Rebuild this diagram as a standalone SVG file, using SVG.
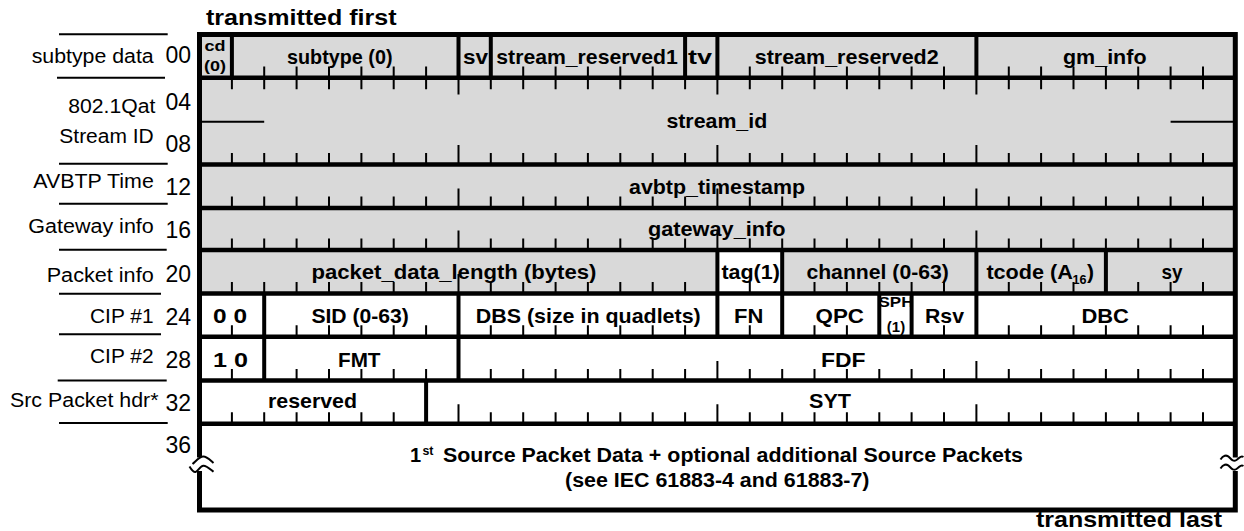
<svg xmlns="http://www.w3.org/2000/svg" width="1244" height="531" viewBox="0 0 1244 531">
<style>
text{font-family:"Liberation Sans",Arial,sans-serif;fill:#000}
.l{font-size:20px}
.n{font-size:23px;text-anchor:end}
.b{font-size:21px;font-weight:bold}
.s{font-size:14px;font-weight:bold}
.t{font-size:22px;font-weight:bold}
.c{text-anchor:middle}
.tk{stroke:#000;stroke-width:2;fill:none}
.hl{stroke:#000;stroke-width:4.5;fill:none}
.vl{stroke:#000;stroke-width:4;fill:none}
.ll{stroke:#000;stroke-width:2;fill:none}
</style>
<rect width="1244" height="531" fill="#fff"/>
<g id="fills">
<rect x="199.5" y="34.5" width="1035.8" height="259" fill="#d9d9d9"/>
<rect x="717.4" y="250" width="64.8" height="43.5" fill="#fff"/>
</g>
<g id="ticks" class="tk">
<path d="M264.2 77.7v-11.2M296.6 77.7v-11.2M329 77.7v-11.2M361.4 77.7v-11.2M393.7 77.7v-11.2M426.1 77.7v-11.2M523.2 77.7v-11.2M555.6 77.7v-11.2M587.9 77.7v-11.2M620.3 77.7v-11.2M652.7 77.7v-11.2M749.8 77.7v-11.2M782.2 77.7v-11.2M814.5 77.7v-11.2M846.9 77.7v-11.2M879.3 77.7v-11.2M911.6 77.7v-11.2M944 77.7v-11.2M1008.8 77.7v-11.2M1041.1 77.7v-11.2M1073.5 77.7v-11.2M1105.9 77.7v-11.2M1138.2 77.7v-11.2M1170.6 77.7v-11.2M1203 77.7v-11.2"/>
<path d="M231.9 77.7v11.6M264.2 77.7v11.6M296.6 77.7v11.6M329 77.7v11.6M361.4 77.7v11.6M393.7 77.7v11.6M426.1 77.7v11.6M458.5 77.7v16.8M490.8 77.7v11.6M523.2 77.7v11.6M555.6 77.7v11.6M587.9 77.7v11.6M620.3 77.7v11.6M652.7 77.7v11.6M685.1 77.7v11.6M717.4 77.7v16.8M749.8 77.7v11.6M782.2 77.7v11.6M814.5 77.7v11.6M846.9 77.7v11.6M879.3 77.7v11.6M911.6 77.7v11.6M944 77.7v11.6M976.4 77.7v16.8M1008.8 77.7v11.6M1041.1 77.7v11.6M1073.5 77.7v11.6M1105.9 77.7v11.6M1138.2 77.7v11.6M1170.6 77.7v11.6M1203 77.7v11.6"/>
<path d="M231.9 164.5v-11.5M264.2 164.5v-11.5M296.6 164.5v-11.5M329 164.5v-11.5M361.4 164.5v-11.5M393.7 164.5v-11.5M426.1 164.5v-11.5M458.5 164.5v-19.5M490.8 164.5v-11.5M523.2 164.5v-11.5M555.6 164.5v-11.5M587.9 164.5v-11.5M620.3 164.5v-11.5M652.7 164.5v-11.5M685.1 164.5v-11.5M717.4 164.5v-19.5M749.8 164.5v-11.5M782.2 164.5v-11.5M814.5 164.5v-11.5M846.9 164.5v-11.5M879.3 164.5v-11.5M911.6 164.5v-11.5M944 164.5v-11.5M976.4 164.5v-19.5M1008.8 164.5v-11.5M1041.1 164.5v-11.5M1073.5 164.5v-11.5M1105.9 164.5v-11.5M1138.2 164.5v-11.5M1170.6 164.5v-11.5M1203 164.5v-11.5"/>
<path d="M231.9 208v-11.5M264.2 208v-11.5M296.6 208v-11.5M329 208v-11.5M361.4 208v-11.5M393.7 208v-11.5M426.1 208v-11.5M458.5 208v-19.5M490.8 208v-11.5M523.2 208v-11.5M555.6 208v-11.5M587.9 208v-11.5M620.3 208v-11.5M652.7 208v-11.5M685.1 208v-11.5M717.4 208v-19.5M749.8 208v-11.5M782.2 208v-11.5M814.5 208v-11.5M846.9 208v-11.5M879.3 208v-11.5M911.6 208v-11.5M944 208v-11.5M976.4 208v-19.5M1008.8 208v-11.5M1041.1 208v-11.5M1073.5 208v-11.5M1105.9 208v-11.5M1138.2 208v-11.5M1170.6 208v-11.5M1203 208v-11.5"/>
<path d="M231.9 250v-11.5M264.2 250v-11.5M296.6 250v-11.5M329 250v-11.5M361.4 250v-11.5M393.7 250v-11.5M426.1 250v-11.5M458.5 250v-19.5M490.8 250v-11.5M523.2 250v-11.5M555.6 250v-11.5M587.9 250v-11.5M620.3 250v-11.5M652.7 250v-11.5M685.1 250v-11.5M717.4 250v-19.5M749.8 250v-11.5M782.2 250v-11.5M814.5 250v-11.5M846.9 250v-11.5M879.3 250v-11.5M911.6 250v-11.5M944 250v-11.5M976.4 250v-19.5M1008.8 250v-11.5M1041.1 250v-11.5M1073.5 250v-11.5M1105.9 250v-11.5M1138.2 250v-11.5M1170.6 250v-11.5M1203 250v-11.5"/>
<path d="M231.9 293.5v-11.5M264.2 293.5v-11.5M296.6 293.5v-11.5M329 293.5v-11.5M361.4 293.5v-11.5M393.7 293.5v-11.5M426.1 293.5v-11.5M458.5 293.5v-19.5M490.8 293.5v-11.5M523.2 293.5v-11.5M555.6 293.5v-11.5M587.9 293.5v-11.5M620.3 293.5v-11.5M652.7 293.5v-11.5M685.1 293.5v-11.5M749.8 293.5v-11.5M814.5 293.5v-11.5M846.9 293.5v-11.5M879.3 293.5v-11.5M911.6 293.5v-11.5M944 293.5v-11.5M1008.8 293.5v-11.5M1041.1 293.5v-11.5M1073.5 293.5v-11.5M1138.2 293.5v-11.5M1170.6 293.5v-11.5M1203 293.5v-11.5"/>
<path d="M231.9 336.7v-11.5M296.6 336.7v-11.5M329 336.7v-11.5M361.4 336.7v-11.5M393.7 336.7v-11.5M426.1 336.7v-11.5M490.8 336.7v-11.5M523.2 336.7v-11.5M555.6 336.7v-11.5M587.9 336.7v-11.5M620.3 336.7v-11.5M652.7 336.7v-11.5M685.1 336.7v-11.5M749.8 336.7v-11.5M814.5 336.7v-11.5M846.9 336.7v-11.5M944 336.7v-11.5M1008.8 336.7v-11.5M1041.1 336.7v-11.5M1073.5 336.7v-11.5M1105.9 336.7v-11.5M1138.2 336.7v-11.5M1170.6 336.7v-11.5M1203 336.7v-11.5"/>
<path d="M231.9 380.5v-11.5M296.6 380.5v-11.5M329 380.5v-11.5M361.4 380.5v-11.5M393.7 380.5v-11.5M426.1 380.5v-11.5M490.8 380.5v-11.5M523.2 380.5v-11.5M555.6 380.5v-11.5M587.9 380.5v-11.5M620.3 380.5v-11.5M652.7 380.5v-11.5M685.1 380.5v-11.5M717.4 380.5v-19.5M749.8 380.5v-11.5M782.2 380.5v-11.5M814.5 380.5v-11.5M846.9 380.5v-11.5M879.3 380.5v-11.5M911.6 380.5v-11.5M944 380.5v-11.5M976.4 380.5v-19.5M1008.8 380.5v-11.5M1041.1 380.5v-11.5M1073.5 380.5v-11.5M1105.9 380.5v-11.5M1138.2 380.5v-11.5M1170.6 380.5v-11.5M1203 380.5v-11.5"/>
<path d="M231.9 423.8v-11.5M264.2 423.8v-11.5M296.6 423.8v-11.5M329 423.8v-11.5M361.4 423.8v-11.5M393.7 423.8v-11.5M458.5 423.8v-19.5M490.8 423.8v-11.5M523.2 423.8v-11.5M555.6 423.8v-11.5M587.9 423.8v-11.5M620.3 423.8v-11.5M652.7 423.8v-11.5M685.1 423.8v-11.5M717.4 423.8v-19.5M749.8 423.8v-11.5M782.2 423.8v-11.5M814.5 423.8v-11.5M846.9 423.8v-11.5M879.3 423.8v-11.5M911.6 423.8v-11.5M944 423.8v-11.5M976.4 423.8v-19.5M1008.8 423.8v-11.5M1041.1 423.8v-11.5M1073.5 423.8v-11.5M1105.9 423.8v-11.5M1138.2 423.8v-11.5M1170.6 423.8v-11.5M1203 423.8v-11.5"/>
<path d="M201 121.7H264.2M1170.6 121.7H1233"/>
</g>
<g id="sph-field">
<text class="s" x="878.5" y="306.7" style="font-size:15px" textLength="35" lengthAdjust="spacingAndGlyphs">SPH</text>
<text class="s c" x="896" y="331.7" style="font-size:15px">(1)</text>
</g>
<g id="row-lines" class="hl">
<path d="M199.5 77.7H1235.3M199.5 164.5H1235.3M199.5 208H1235.3M199.5 250H1235.3M199.5 293.5H1235.3M199.5 336.7H1235.3M199.5 380.5H1235.3M199.5 423.8H1235.3"/>
</g>
<g id="field-separators" class="vl">
<path d="M231.9 34.5V77.7M458.5 34.5V77.7M490.8 34.5V77.7M685.1 34.5V77.7M717.4 34.5V77.7M976.4 34.5V77.7"/>
<path d="M717.4 250V293.5M782.2 250V293.5M976.4 250V293.5M1105.9 250V293.5"/>
<path d="M264.2 293.5V336.7M458.5 293.5V336.7M717.4 293.5V336.7M782.2 293.5V336.7M879.3 293.5V336.7M911.6 293.5V336.7M976.4 293.5V336.7"/>
<path d="M264.2 336.7V380.5M458.5 336.7V380.5"/>
<path d="M426.1 380.5V423.8"/>
</g>
<rect id="frame" x="199.5" y="34.5" width="1035.8" height="475.5" fill="none" stroke="#000" stroke-width="5"/>
<g id="breaks">
<rect x="195" y="457.5" width="9" height="13.5" fill="#fff"/>
<rect x="1231" y="457.5" width="9" height="13.5" fill="#fff"/>
<path class="ll" d="M192.5 464C196 461 199.5 456.5 203.3 456.5S210.5 460.5 213.5 463"/>
<path class="ll" d="M189.5 466.5C191 469 193 472.3 195.5 472S200 466 203.3 465.8S210.5 469.5 213.5 471.8"/>
<path class="ll" d="M1220.5 459.5C1223 455.5 1226.5 454.5 1229 457S1233 462 1236.5 460S1240.5 455 1243.5 457"/>
<path class="ll" d="M1220.5 468.5C1223 464.5 1226.5 463.5 1229 466S1233 471 1236.5 469S1240.5 464 1243.5 466"/>
</g>
<g id="left-rules" class="ll">
<path d="M59 34.3H167.7M57 77.7H165M59 163.7H167.7M59 203.7H167.7M59 249.7H166.7M59 293.7H161M59 334.3H161M57.7 380.5H166.7M59 423H167.7"/>
</g>
<g id="row-labels">
<text class="l" x="31.7" y="63.3" textLength="122" lengthAdjust="spacingAndGlyphs">subtype data</text>
<text class="l" x="68.3" y="113.3" textLength="87" lengthAdjust="spacingAndGlyphs">802.1Qat</text>
<text class="l" x="59.3" y="143.3" textLength="94.5" lengthAdjust="spacingAndGlyphs">Stream ID</text>
<text class="l" x="33.3" y="188.3" textLength="120.5" lengthAdjust="spacingAndGlyphs">AVBTP Time</text>
<text class="l" x="28.3" y="233.3" textLength="125.5" lengthAdjust="spacingAndGlyphs">Gateway info</text>
<text class="l" x="46.7" y="281.7" textLength="107" lengthAdjust="spacingAndGlyphs">Packet info</text>
<text class="l" x="90" y="323.3" textLength="63.5" lengthAdjust="spacingAndGlyphs">CIP #1</text>
<text class="l" x="90" y="363.3" textLength="63.5" lengthAdjust="spacingAndGlyphs">CIP #2</text>
<text class="l" x="10" y="406.7" textLength="148.5" lengthAdjust="spacingAndGlyphs">Src Packet hdr*</text>
</g>
<g id="offsets">
<text class="n" x="191" y="63.3">00</text>
<text class="n" x="191" y="110">04</text>
<text class="n" x="191" y="151.7">08</text>
<text class="n" x="191" y="195">12</text>
<text class="n" x="191" y="238.3">16</text>
<text class="n" x="191" y="281.7">20</text>
<text class="n" x="191" y="325">24</text>
<text class="n" x="191" y="368.3">28</text>
<text class="n" x="191" y="410.7">32</text>
<text class="n" x="191" y="453.3">36</text>
</g>
<g id="row-00">
<text class="s" x="204.5" y="50.5" textLength="21" lengthAdjust="spacingAndGlyphs">cd</text>
<text class="s" x="204" y="71" textLength="22" lengthAdjust="spacingAndGlyphs">(0)</text>
<text class="b" x="287" y="63.5" textLength="105.5" lengthAdjust="spacingAndGlyphs">subtype (0)</text>
<text class="b" x="463" y="64" textLength="25" lengthAdjust="spacingAndGlyphs">sv</text>
<text class="b" x="496.3" y="64" textLength="181.5" lengthAdjust="spacingAndGlyphs">stream_reserved1</text>
<text class="b" x="688" y="64" textLength="24" lengthAdjust="spacingAndGlyphs">tv</text>
<text class="b" x="754.7" y="64" textLength="184" lengthAdjust="spacingAndGlyphs">stream_reserved2</text>
<text class="b" x="1063" y="64" textLength="83.5" lengthAdjust="spacingAndGlyphs">gm_info</text>
</g>
<g id="row-04">
<text class="b" x="666.4" y="128.3" textLength="100.8" lengthAdjust="spacingAndGlyphs">stream_id</text>
</g>
<g id="row-12">
<text class="b" x="629" y="194.3" textLength="176" lengthAdjust="spacingAndGlyphs">avbtp_timestamp</text>
</g>
<g id="row-16">
<text class="b" x="648" y="236" textLength="137.5" lengthAdjust="spacingAndGlyphs">gateway_info</text>
</g>
<g id="row-20">
<text class="b" x="311.4" y="279.3" textLength="285" lengthAdjust="spacingAndGlyphs">packet_data_length (bytes)</text>
<text class="b" x="721.4" y="279.3" textLength="58.5" lengthAdjust="spacingAndGlyphs">tag(1)</text>
<text class="b" x="806.4" y="279.3" textLength="142.5" lengthAdjust="spacingAndGlyphs">channel (0-63)</text>
<text class="b" x="986.4" y="279.3" textLength="86.5" lengthAdjust="spacingAndGlyphs">tcode (A</text>
<text class="b" x="1072.5" y="284" style="font-size:12.5px" textLength="14" lengthAdjust="spacingAndGlyphs">16</text>
<text class="b" x="1087" y="279.3">)</text>
<text class="b" x="1161.4" y="279.3" textLength="21" lengthAdjust="spacingAndGlyphs">sy</text>
</g>
<g id="row-24">
<text class="b" x="213" y="323.3" textLength="34" lengthAdjust="spacingAndGlyphs">0 0</text>
<text class="b" x="311.4" y="323.3" textLength="97.5" lengthAdjust="spacingAndGlyphs">SID (0-63)</text>
<text class="b" x="475.7" y="323.3" textLength="225" lengthAdjust="spacingAndGlyphs">DBS (size in quadlets)</text>
<text class="b" x="734" y="323.3" textLength="29.3" lengthAdjust="spacingAndGlyphs">FN</text>
<text class="b" x="815.5" y="323.3" textLength="48.5" lengthAdjust="spacingAndGlyphs">QPC</text>
<text class="b" x="925" y="322.7" textLength="39" lengthAdjust="spacingAndGlyphs">Rsv</text>
<text class="b" x="1081.4" y="323.3" textLength="47.5" lengthAdjust="spacingAndGlyphs">DBC</text>
</g>
<g id="row-28">
<text class="b" x="213" y="366.7" textLength="35" lengthAdjust="spacingAndGlyphs">1 0</text>
<text class="b" x="338" y="366.7" textLength="42.5" lengthAdjust="spacingAndGlyphs">FMT</text>
<text class="b" x="821" y="366.7" textLength="44.5" lengthAdjust="spacingAndGlyphs">FDF</text>
</g>
<g id="row-32">
<text class="b" x="268" y="408.3" textLength="89" lengthAdjust="spacingAndGlyphs">reserved</text>
<text class="b" x="809" y="408.3" textLength="42" lengthAdjust="spacingAndGlyphs">SYT</text>
</g>
<g id="row-36">
<text class="b" x="410" y="461.7" style="font-size:20px">1</text>
<text class="b" x="422.5" y="455" style="font-size:12.5px" textLength="11" lengthAdjust="spacingAndGlyphs">st</text>
<text class="b" x="443" y="461.7" style="font-size:20px" textLength="580" lengthAdjust="spacingAndGlyphs">Source Packet Data + optional additional Source Packets</text>
<text class="b" x="565" y="486.7" style="font-size:20px" textLength="304.5" lengthAdjust="spacingAndGlyphs">(see IEC 61883-4 and 61883-7)</text>
</g>
<g id="captions">
<text class="t" x="206" y="25" textLength="190.5" lengthAdjust="spacingAndGlyphs">transmitted first</text>
<text class="t" x="1036" y="526.5" textLength="186" lengthAdjust="spacingAndGlyphs">transmitted last</text>
</g>
</svg>
